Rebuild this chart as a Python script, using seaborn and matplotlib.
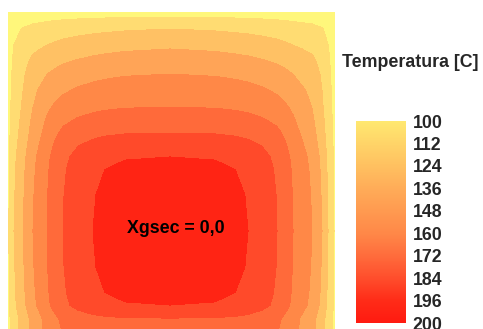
import numpy as np
import seaborn as sns
import matplotlib
matplotlib.use("Agg")
import matplotlib.pyplot as plt
from matplotlib import colors as mcolors
from matplotlib import cm

sns.set_theme(style="white")
plt.rcParams["font.family"] = ["Liberation Sans", "DejaVu Sans"]

# Temperature readings across the 300 mm section (section at Xgsec = 0,0)
# horizontal profile through the hottest point
x_mm = [0, 5.5, 13.8, 22.9, 35.8, 43.1, 50.5, 64.2, 78.0, 89.0, 107.3, 148.6,
        189.9, 208.2, 220.2, 233.0, 246.8, 254.2, 261.5, 278.9, 288.1, 293.6, 300]
t_row = [110, 124, 136, 148, 160, 166.5, 172, 179, 184, 187, 190, 192,
         190, 187, 184, 179, 172, 166.5, 160, 148, 136, 124, 110]
# vertical profile through the hottest point (0 = top face)
y_mm = [0, 4.6, 15.6, 33.9, 45.0, 56.9, 71.6, 87.2, 99.1, 111.0, 122.0, 133.0,
        144.9, 167.9, 200.9, 233.9, 256.9, 268.8, 280.8, 290.8, 300]
t_col = [101, 112, 124, 136, 142, 148, 154, 160, 166, 172, 178, 184,
         187, 190, 192, 190, 187, 184, 172, 170, 105]

levels = [100, 112, 124, 136, 148, 160, 172, 184, 196, 200]
band_colors = ["#FFF77B", "#FFDC72", "#FFC164", "#FFA457", "#FF8847",
               "#FF6A3A", "#FF4A2A", "#FF2414", "#FF1000"]
bar_colors = ["#FFE870", "#FFD468", "#FFC060", "#FFAC58", "#FF9A50",
              "#FF8848", "#FF6C3C", "#FF4E2C", "#FF2C18", "#FF1A10"]

# Temperature table for the section, built from the two profiles
base, peak = levels[0], max(t_row)
u = (peak - base) / (np.array(t_row) - base) - 1
v = (peak - base) / (np.array(t_col) - base) - 1
U, V = np.meshgrid(u, v)
p = 0.6 + 0.8 / (1 + (np.maximum(U, V) / 0.7) ** 2)
T = base + (peak - base) / (1 + (U ** p + V ** p) ** (1 / p))

fig = plt.figure(figsize=(4.83, 3.29), dpi=100)
ax = fig.add_axes([8 / 483, 0, 327 / 483, 317 / 329])
ax.contourf(x_mm, y_mm, T, levels=levels, colors=band_colors)
ax.set_xlim(0, 300)
ax.set_ylim(290.8, 0)
ax.set_axis_off()
ax.text(154, 202.5, "Xgsec = 0,0", ha="center", va="baseline",
        fontsize=12.8, fontweight="bold", color="black")

# colour bar: levels evenly spaced, smooth gradient
idx = np.arange(len(levels))
norm = mcolors.FuncNorm((lambda val: np.interp(val, levels, idx),
                         lambda pos: np.interp(pos, idx, levels)),
                        vmin=levels[0], vmax=levels[-1])
cmap = sns.blend_palette(bar_colors, as_cmap=True)
cax = fig.add_axes([356 / 483, 1 - 323 / 329, 50 / 483, 202 / 329])
cbar = fig.colorbar(cm.ScalarMappable(norm=norm, cmap=cmap), cax=cax)
cbar.set_ticks(levels)
cbar.set_ticklabels([str(val) for val in levels])
cbar.outline.set_visible(False)
cax.invert_yaxis()
cax.tick_params(length=0, pad=4.8, labelsize=12.8)
for lab in cax.get_yticklabels():
    lab.set_fontweight("bold")

fig.text(410 / 483, 1 - 66.7 / 329, "Temperatura [C]", ha="center", va="baseline",
         fontsize=12.8, fontweight="bold")

fig.savefig("out.png", dpi=100)
